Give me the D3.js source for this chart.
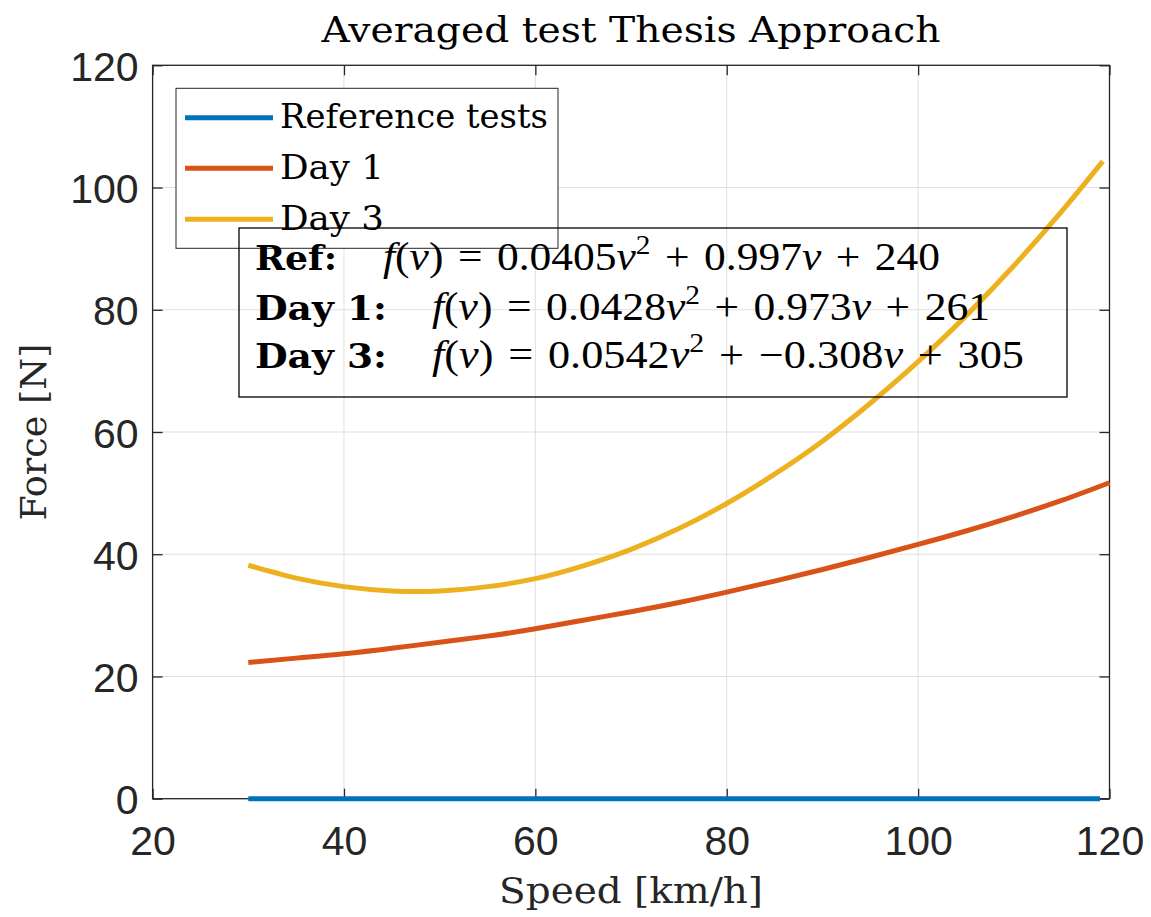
<!DOCTYPE html>
<html><head><meta charset="utf-8">
<script src="https://cdn.jsdelivr.net/npm/d3@7"></script>
<style>body{margin:0;background:#fff}</style>
</head><body>
<svg id="chart" width="1151" height="917"></svg>
<script>
const xTicks = [20, 40, 60, 80, 100, 120];
const yTicks = [0, 20, 40, 60, 80, 100, 120];
const speedRef = [30, 119];
const forceRef = [0, 0];
const speedDay1 = [30, 35, 40, 45, 50, 55, 60, 65, 70, 75, 80, 85, 90, 95, 100, 105, 110, 115, 120];
const forceDay1 = [22.3, 23.0, 23.7, 24.6, 25.6, 26.6, 27.8, 29.2, 30.6, 32.1, 33.8, 35.6, 37.5, 39.5, 41.6, 43.8, 46.2, 48.8, 51.7];
const speedDay3 = [30, 35, 40, 45, 50, 55, 60, 65, 70, 75, 80, 85, 90, 95, 100, 105, 110, 115, 119.3];
const forceDay3 = [38.2, 36.1, 34.7, 34.0, 34.0, 34.7, 36.0, 38.1, 40.8, 44.2, 48.3, 53.1, 58.5, 64.7, 71.5, 79.0, 87.2, 96.1, 104.3];
const seriesNames = ["Reference tests", "Day 1", "Day 3"];
const seriesColors = ["#0072BD", "#D95319", "#EDB120"];
const eqLabels = ["Ref:", "Day 1:", "Day 3:"];
const eqCoefA = ["0.0405", "0.0428", "0.0542"];
const eqCoefB = ["0.997", "0.973", "\u22120.308"];
const eqCoefC = ["240", "261", "305"];
const titleText = "Averaged test Thesis Approach";
const xLabel = "Speed [km/h]";
const yLabel = "Force [N]";

const svg = d3.select("#chart");
const L = 152.6, R = 1109.5, T = 65.3, B = 798.7;
const x = d3.scaleLinear().domain([20, 120]).range([L, R]);
const y = d3.scaleLinear().domain([0, 120]).range([B, T]);
const axisCol = "#262626";
const serif = "'DejaVu Serif', serif";
const mathSerif = "'Liberation Serif', 'Times New Roman', serif";
const sans = "'Liberation Sans', Arial, sans-serif";

svg.append("rect").attr("x", 0).attr("y", 0).attr("width", 1151).attr("height", 917).attr("fill", "#fff");

// grid
const grid = svg.append("g");
grid.selectAll(".gx").data(xTicks).join("line")
  .attr("x1", d => x(d)).attr("x2", d => x(d)).attr("y1", T).attr("y2", B)
  .attr("stroke", "#dfdfdf").attr("stroke-width", 1);
grid.selectAll(".gy").data(yTicks).join("line")
  .attr("x1", L).attr("x2", R).attr("y1", d => y(d)).attr("y2", d => y(d))
  .attr("stroke", "#dfdfdf").attr("stroke-width", 1);

// axes
const tl = 10;
const ax = svg.append("g");
ax.append("g").attr("transform", `translate(0,${B})`)
  .call(d3.axisBottom(x).tickValues(xTicks).tickSizeInner(-tl).tickSizeOuter(0).tickPadding(22))
  .call(g => { g.select(".domain").remove(); g.selectAll("line").attr("stroke", axisCol).attr("stroke-width", 1.3);
    g.selectAll("text").attr("font-family", sans).attr("font-size", 41).attr("fill", axisCol)
      .attr("dy", null).attr("y", 56); });
ax.append("g").attr("transform", `translate(0,${T})`)
  .call(d3.axisTop(x).tickValues(xTicks).tickSizeInner(-tl).tickSizeOuter(0).tickFormat(""))
  .call(g => { g.select(".domain").remove(); g.selectAll("line").attr("stroke", axisCol).attr("stroke-width", 1.3); });
ax.append("g").attr("transform", `translate(${L},0)`)
  .call(d3.axisLeft(y).tickValues(yTicks).tickSizeInner(-tl).tickSizeOuter(0))
  .call(g => { g.select(".domain").remove(); g.selectAll("line").attr("stroke", axisCol).attr("stroke-width", 1.3);
    g.selectAll("text").attr("font-family", sans).attr("font-size", 41).attr("fill", axisCol)
      .attr("x", -14).attr("dy", null).attr("y", 15); });
ax.append("g").attr("transform", `translate(${R},0)`)
  .call(d3.axisRight(y).tickValues(yTicks).tickSizeInner(-tl).tickSizeOuter(0).tickFormat(""))
  .call(g => { g.select(".domain").remove(); g.selectAll("line").attr("stroke", axisCol).attr("stroke-width", 1.3); });
svg.append("rect").attr("x", L).attr("y", T).attr("width", R - L).attr("height", B - T)
  .attr("fill", "none").attr("stroke", axisCol).attr("stroke-width", 1.3);

// lines
const lineGen = d3.line().x(d => x(d[0])).y(d => y(d[1])).curve(d3.curveNatural);
const seriesData = [
  d3.zip(speedRef, forceRef),
  d3.zip(speedDay1, forceDay1),
  d3.zip(speedDay3, forceDay3)
];
svg.append("g").selectAll("path").data(seriesData).join("path")
  .attr("d", lineGen).attr("fill", "none")
  .attr("stroke", (d, i) => seriesColors[i]).attr("stroke-width", 5);

// title & labels
svg.append("text").attr("x", (L + R) / 2).attr("y", 42).attr("text-anchor", "middle")
  .attr("font-family", serif).attr("font-size", 36).attr("fill", "#000")
  .attr("textLength", 619).attr("lengthAdjust", "spacingAndGlyphs").text(titleText);
svg.append("text").attr("x", (L + R) / 2).attr("y", 903).attr("text-anchor", "middle")
  .attr("font-family", serif).attr("font-size", 35).attr("fill", axisCol)
  .attr("textLength", 264).attr("lengthAdjust", "spacingAndGlyphs").text(xLabel);
svg.append("text").attr("transform", `translate(46,${(T + B) / 2}) rotate(-90)`).attr("text-anchor", "middle")
  .attr("font-family", serif).attr("font-size", 35).attr("fill", axisCol)
  .attr("textLength", 177).attr("lengthAdjust", "spacingAndGlyphs").text(yLabel);

// legend
const lg = svg.append("g");
lg.append("rect").attr("x", 176).attr("y", 88.3).attr("width", 382).attr("height", 160)
  .attr("fill", "#fff").attr("stroke", axisCol).attr("stroke-width", 1);
const legY = [117.7, 168.3, 219.3];
const legW = [268, 104, 104];
seriesNames.forEach((n, i) => {
  lg.append("line").attr("x1", 185).attr("x2", 273).attr("y1", legY[i]).attr("y2", legY[i])
    .attr("stroke", seriesColors[i]).attr("stroke-width", 5);
  lg.append("text").attr("x", 280).attr("y", legY[i] + 10.5)
    .attr("font-family", serif).attr("font-size", 34).attr("fill", "#000")
    .attr("textLength", legW[i]).attr("lengthAdjust", "spacingAndGlyphs").text(n);
});

// equation box
const eb = svg.append("g");
eb.append("rect").attr("x", 239).attr("y", 228).attr("width", 828).attr("height", 169)
  .attr("fill", "none").attr("stroke", "#000").attr("stroke-width", 1.3);
const eqBase = [270, 320, 368.3];
const eqStart = [383, 432, 432];
const eqW = [557, 558, 592];
const labW = [82, 132, 132];
const sp = "\u2004";
eqLabels.forEach((lab, i) => {
  eb.append("text").attr("x", 255).attr("y", eqBase[i]).attr("font-family", serif)
    .attr("font-weight", "bold").attr("font-size", 33).attr("fill", "#000")
    .attr("textLength", labW[i]).attr("lengthAdjust", "spacingAndGlyphs").text(lab);
  const t = eb.append("text").attr("x", eqStart[i]).attr("y", eqBase[i]).attr("font-family", mathSerif)
    .attr("font-size", 40).attr("fill", "#000")
    .attr("textLength", eqW[i]).attr("lengthAdjust", "spacingAndGlyphs");
  t.append("tspan").attr("font-style", "italic").text("f");
  t.append("tspan").text("(");
  t.append("tspan").attr("font-style", "italic").text("v");
  t.append("tspan").text(")" + sp + "=" + sp + eqCoefA[i]);
  t.append("tspan").attr("font-style", "italic").text("v");
  t.append("tspan").attr("font-size", 27).attr("dy", -16).text("2");
  t.append("tspan").attr("dy", 16).text(sp + "+" + sp + eqCoefB[i]);
  t.append("tspan").attr("font-style", "italic").text("v");
  t.append("tspan").text(sp + "+" + sp + eqCoefC[i]);
});
</script>
</body></html>
